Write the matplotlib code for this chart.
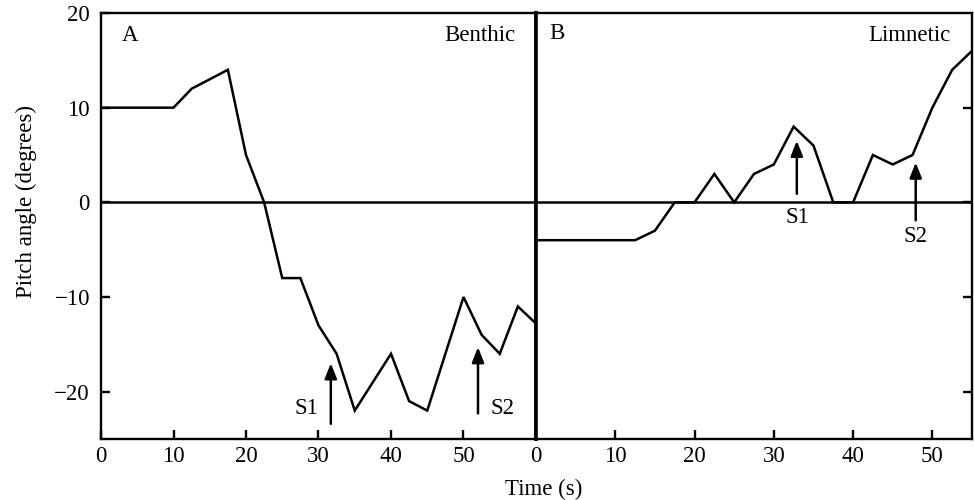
import numpy as np
import matplotlib
matplotlib.use('Agg')
import matplotlib.pyplot as plt

plt.rcParams['font.family'] = ['Liberation Serif', 'DejaVu Serif']
plt.rcParams['font.size'] = 16.5

# pitch angle traces (degrees), sampled every 2.5 s
benthic_t = [0, 2.5, 5, 7.5, 10, 12.5, 17.5, 20, 22.5, 25, 27.5, 30, 32.5, 35,
             40, 42.5, 45, 50, 52.5, 55, 57.5, 60]
benthic_y = [10, 10, 10, 10, 10, 12, 14, 5, 0, -8, -8, -13, -16, -22,
             -16, -21, -22, -10, -14, -16, -11, -12.8]
limnetic_t = [0, 2.5, 5, 7.5, 10, 12.5, 15, 17.5, 20, 22.5, 25, 27.5, 30, 32.5,
              35, 37.5, 40, 42.5, 45, 47.5, 50, 52.5, 55]
limnetic_y = [-4, -4, -4, -4, -4, -4, -3, 0, 0, 3, 0, 3, 4, 8,
              6, 0, 0, 5, 4, 5, 10, 14, 16]

# stimulus markers: (label, time, arrow tail y, arrow head y, text x, text y)
benthic_marks = [('S1', 31.7, -23.4, -17.0, 28.3, -21.8),
                 ('S2', 52.0, -22.3, -15.3, 55.4, -21.8)]
limnetic_marks = [('S1', 32.9, 0.9, 6.5, 33.0, -1.6),
                  ('S2', 47.9, -1.9, 4.2, 47.9, -3.6)]

fig = plt.figure(figsize=(9.74, 5.0), dpi=100, facecolor='white')
axA = fig.add_axes([101/974, 61/500, 435/974, 426/500])
axB = fig.add_axes([536/974, 61/500, 436/974, 426/500])

for ax, t, y, xmax, marks in [(axA, benthic_t, benthic_y, 60, benthic_marks),
                              (axB, limnetic_t, limnetic_y, 55, limnetic_marks)]:
    ax.plot(t, y, color='black', lw=1.8, solid_joinstyle='miter')
    ax.axhline(0, color='black', lw=1.8)
    ax.set_xlim(0, xmax)
    ax.set_ylim(-25, 20)
    ax.set_xticks([0, 10, 20, 30, 40, 50])
    for s in ax.spines.values():
        s.set_linewidth(1.7)
    for lab, xa, y0, y1, tx, ty in marks:
        ax.annotate('', xy=(xa, y1), xytext=(xa, y0),
                    arrowprops=dict(arrowstyle='-|>,head_length=0.55,head_width=0.22',
                                    color='black', lw=1.8, shrinkA=0, shrinkB=0))
        ax.text(tx, ty, lab, ha='center', va='center')

# thicker divider between the panels
axA.spines['right'].set_linewidth(2.6)
axB.spines['left'].set_linewidth(2.6)

axA.set_yticks([-20, -10, 0, 10, 20])
axA.set_yticklabels(['\u221220', '\u221210', '0', '10', '20'])
axA.tick_params(axis='x', direction='in', length=6.5, width=1.7, top=False, pad=5)
axA.tick_params(axis='y', direction='in', length=6.5, width=1.7, right=False, pad=8)
axB.set_yticks([-20, -10, 0, 10])
axB.tick_params(axis='x', direction='in', length=6.5, width=1.7, top=False, pad=5)
axB.tick_params(axis='y', direction='in', length=6.5, width=1.7, left=False,
                right=True, labelleft=False)

axA.text(0.067, 0.948, 'A', transform=axA.transAxes, ha='center', va='center')
axA.text(0.952, 0.948, 'Benthic', transform=axA.transAxes, ha='right', va='center')
axB.text(0.048, 0.952, 'B', transform=axB.transAxes, ha='center', va='center')
axB.text(0.95, 0.948, 'Limnetic', transform=axB.transAxes, ha='right', va='center')

fig.text(26/974, 1 - 201/500, 'Pitch angle (degrees)', rotation=90,
         ha='center', va='center')
fig.text(544/974, 1 - 489/500, 'Time (s)', ha='center', va='center')

plt.savefig('out.png', dpi=100)
